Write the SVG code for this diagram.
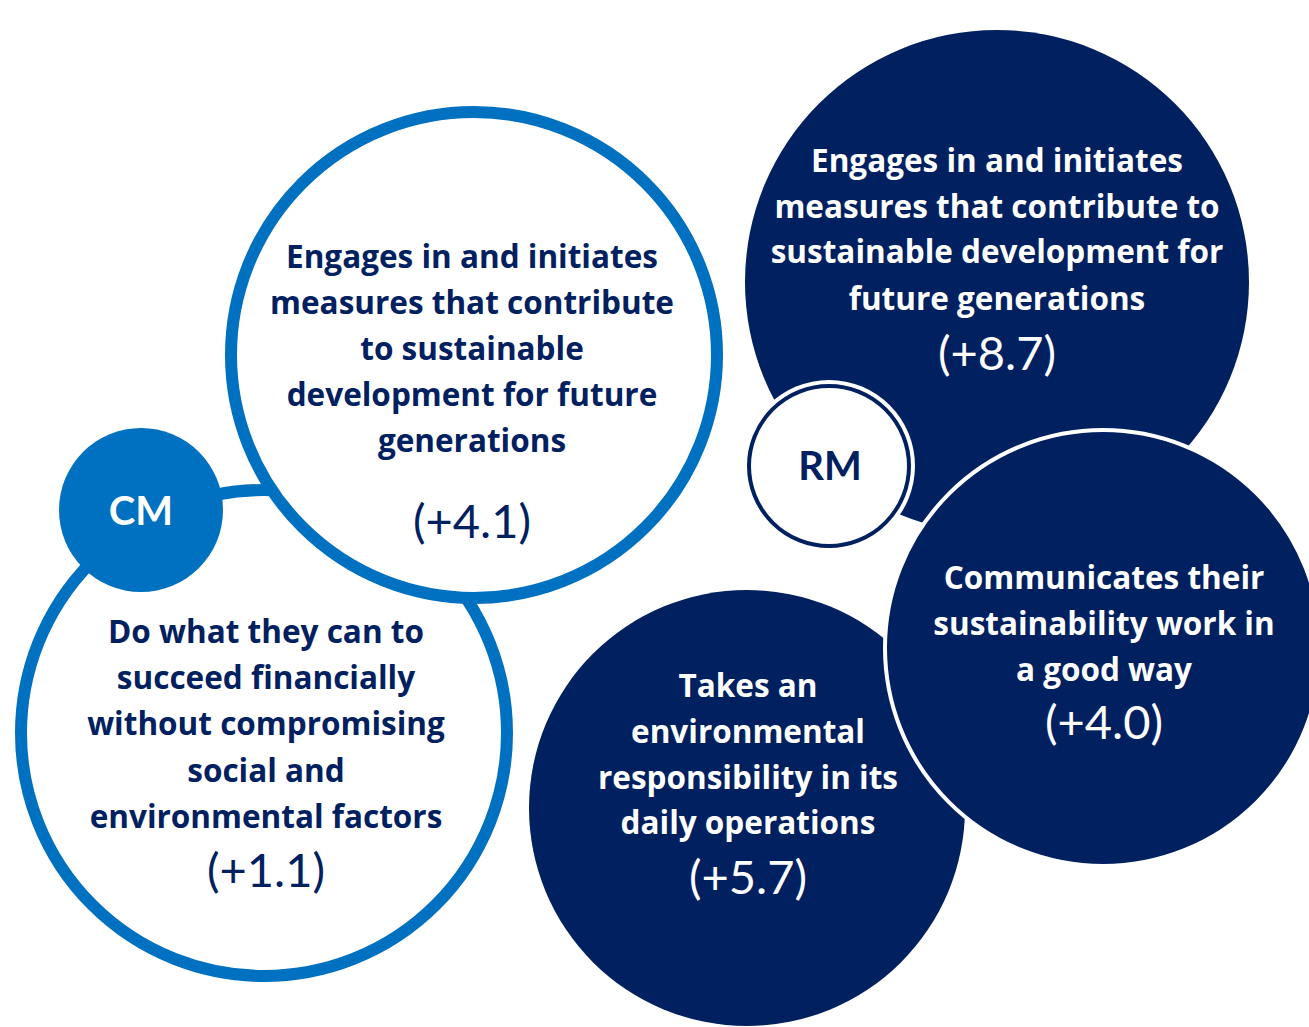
<svg xmlns="http://www.w3.org/2000/svg" width="1309" height="1027" viewBox="0 0 1309 1027">
<style>
.ring{fill:#FFFFFF;stroke:#0070C0;stroke-width:12}
.navy{fill:#002060}
.lbl{font-family:"Open Sans","Noto Sans","Liberation Sans",sans-serif;font-weight:700;font-size:31.5px;text-anchor:middle}
.num{font-family:Lato,"Open Sans","Liberation Sans",sans-serif;font-weight:400;font-size:47px;text-anchor:middle}
.dk{fill:#002060}
.wt{fill:#FFFFFF}
.hub{font-family:Lato,"Open Sans","Liberation Sans",sans-serif;font-weight:700;font-size:40px;text-anchor:middle}
</style>
<rect width="1309" height="1027" fill="#FFFFFF"/>
<g id="connectors">
<line x1="906" y1="492" x2="940" y2="504" stroke="#FFFFFF" stroke-width="7"/>
</g>
<g id="cm-financial">
<circle class="ring" cx="264" cy="733" r="243"/>
<text class="lbl dk" x="266" y="643">Do what they can to</text>
<text class="lbl dk" x="266" y="689">succeed financially</text>
<text class="lbl dk" x="266" y="735">without compromising</text>
<text class="lbl dk" x="266" y="782">social and</text>
<text class="lbl dk" x="266" y="828">environmental factors</text>
<text class="num dk" x="266" y="887">(+1.1)</text>
</g>
<g id="cm">
<circle cx="141" cy="510" r="82" fill="#0070C0"/>
<text class="hub wt" x="141" y="525">CM</text>
</g>
<g id="cm-sustainable">
<circle class="ring" cx="474" cy="355" r="243"/>
<text class="lbl dk" x="472" y="268">Engages in and initiates</text>
<text class="lbl dk" x="472" y="314">measures that contribute</text>
<text class="lbl dk" x="472" y="360">to sustainable</text>
<text class="lbl dk" x="472" y="406">development for future</text>
<text class="lbl dk" x="472" y="452">generations</text>
<text class="num dk" x="472" y="538">(+4.1)</text>
</g>
<g id="rm-sustainable">
<circle class="navy" cx="997" cy="282" r="252"/>
<text class="lbl wt" x="997" y="172">Engages in and initiates</text>
<text class="lbl wt" x="997" y="218">measures that contribute to</text>
<text class="lbl wt" x="997" y="263">sustainable development for</text>
<text class="lbl wt" x="997" y="310">future generations</text>
<text class="num wt" x="997" y="370">(+8.7)</text>
</g>
<g id="rm">
<circle cx="829" cy="466" r="86" fill="#FFFFFF"/>
<circle cx="829" cy="466" r="80" fill="#FFFFFF" stroke="#002060" stroke-width="4"/>
<text class="hub dk" x="830" y="480">RM</text>
</g>
<g id="rm-environmental">
<circle class="navy" cx="747" cy="808" r="218"/>
<text class="lbl wt" x="748" y="697">Takes an</text>
<text class="lbl wt" x="748" y="743">environmental</text>
<text class="lbl wt" x="748" y="789">responsibility in its</text>
<text class="lbl wt" x="748" y="834">daily operations</text>
<text class="num wt" x="748" y="894">(+5.7)</text>
</g>
<g id="rm-communicates">
<circle class="navy" cx="1103" cy="648" r="218" stroke="#FFFFFF" stroke-width="4"/>
<text class="lbl wt" x="1104" y="589">Communicates their</text>
<text class="lbl wt" x="1104" y="635">sustainability work in</text>
<text class="lbl wt" x="1104" y="681">a good way</text>
<text class="num wt" x="1104" y="739">(+4.0)</text>
</g>
</svg>
